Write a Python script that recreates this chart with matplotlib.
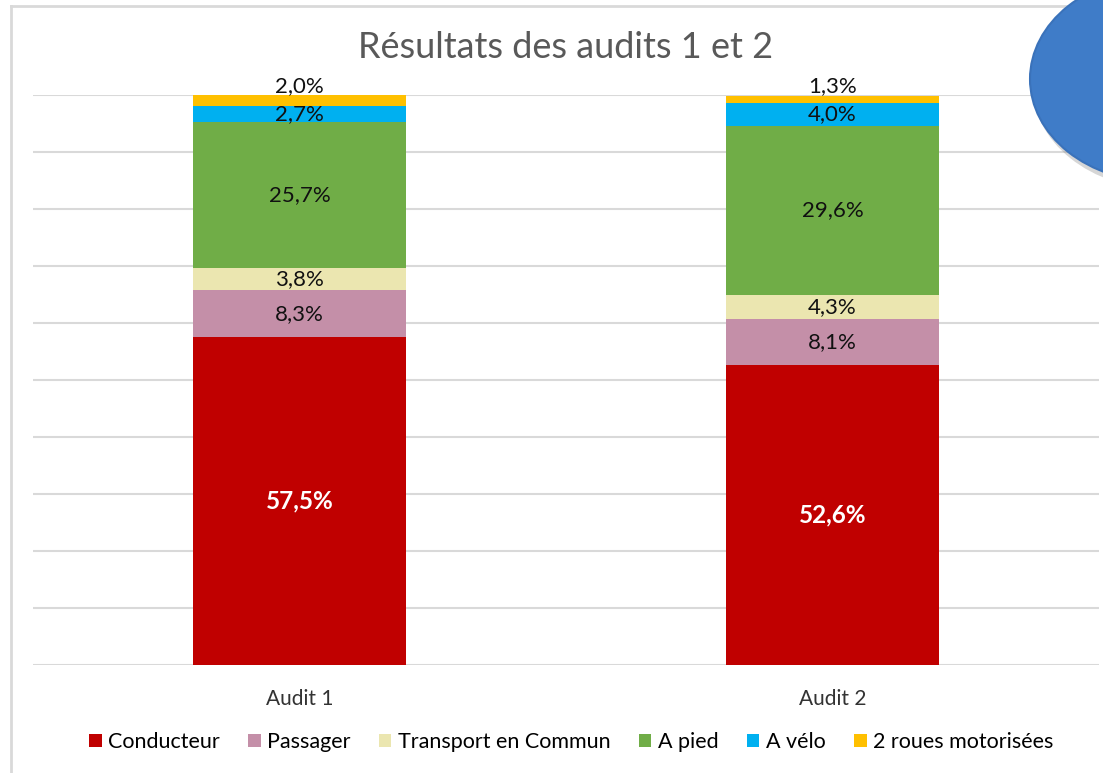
import matplotlib
matplotlib.use("Agg")
import matplotlib.pyplot as plt
from matplotlib.patches import Ellipse, Patch
from matplotlib.lines import Line2D
import numpy as np

plt.rcParams['font.family'] = ['Lato', 'DejaVu Sans']

# ---- data ----
audits = ["Audit 1", "Audit 2"]
categories = ["Conducteur", "Passager", "Transport en Commun", "A pied", "A vélo", "2 roues motorisées"]
conducteur = [57.5, 52.6]
passager = [8.3, 8.1]
transport = [3.8, 4.3]
a_pied = [25.7, 29.6]
a_velo = [2.7, 4.0]
deux_roues = [2.0, 1.3]
series = [conducteur, passager, transport, a_pied, a_velo, deux_roues]
colors = ["#C00000", "#C48FA8", "#EBE6B0", "#70AD47", "#00B0F0", "#FFC000"]

W, H = 1103, 773
fig = plt.figure(figsize=(W / 100, H / 100), dpi=100)
ax = fig.add_axes([33 / W, (H - 665) / H, (1099 - 33) / W, (665 - 95) / H])

x = np.arange(len(audits))
bottom = np.zeros(len(audits))
for i, (vals, col) in enumerate(zip(series, colors)):
    vals = np.array(vals)
    ax.bar(x, vals, 0.4, bottom=bottom, color=col, zorder=3)
    for j, v in enumerate(vals):
        label = "{:.1f}%".format(v).replace(".", ",")
        if i == 0:
            ax.text(x[j], bottom[j] + v / 2, label, ha="center", va="center",
                    color="white", fontsize=17.5, fontweight="bold", zorder=4)
        elif i == len(series) - 1:
            # top labels sit just above the bar
            ax.text(x[j], bottom[j] + v + 1.6, label, ha="center", va="center",
                    color="#111111", fontsize=16, zorder=4, clip_on=False)
        else:
            ax.text(x[j], bottom[j] + v / 2, label, ha="center", va="center",
                    color="#111111", fontsize=16, zorder=4)
    bottom += vals

ax.set_xlim(-0.5, 1.5)
ax.set_ylim(0, 100)
ax.set_yticks(np.arange(0, 101, 10))
ax.set_yticklabels([])
ax.tick_params(axis="y", length=0)
ax.tick_params(axis="x", length=0, labelsize=15, colors="#333333", pad=17)
ax.set_xticks(x)
ax.set_xticklabels(audits)
ax.grid(axis="y", color="#D9D9D9", linewidth=1.5, zorder=0)
for s in ax.spines.values():
    s.set_visible(False)

fig.text(566 / W, 1 - 47 / H, "Résultats des audits 1 et 2", ha="center", va="center",
         fontsize=26, color="#595959")

handles = [Patch(facecolor=c, edgecolor="none") for c in colors]
fig.legend(handles, categories, loc="center", bbox_to_anchor=(571 / W, 1 - 742 / H),
           ncol=6, frameon=False, fontsize=15.5, handlelength=0.6, handleheight=0.6,
           handletextpad=0.3, columnspacing=1.3)

# chart frame (left and top edges visible)
fig.add_artist(Line2D([11 / W, 11 / W], [0, 1 - 6 / H], transform=fig.transFigure,
                      color="#D9D9D9", linewidth=2))
fig.add_artist(Line2D([11 / W, 1], [1 - 6 / H, 1 - 6 / H], transform=fig.transFigure,
                      color="#D9D9D9", linewidth=2))

# blue ellipse shape overlapping the corner
fig.add_artist(Ellipse((1163 / W, 1 - 84 / H), 262 / W, 210 / H, transform=fig.transFigure,
                       facecolor="#8a8a8a", edgecolor="none", alpha=0.35, zorder=5))
fig.add_artist(Ellipse((1160 / W, 1 - 79 / H), 260 / W, 206 / H, transform=fig.transFigure,
                       facecolor="#3F7CC8", edgecolor="#3A72BA", linewidth=1.5, zorder=6))

fig.savefig("out.png", dpi=100)
